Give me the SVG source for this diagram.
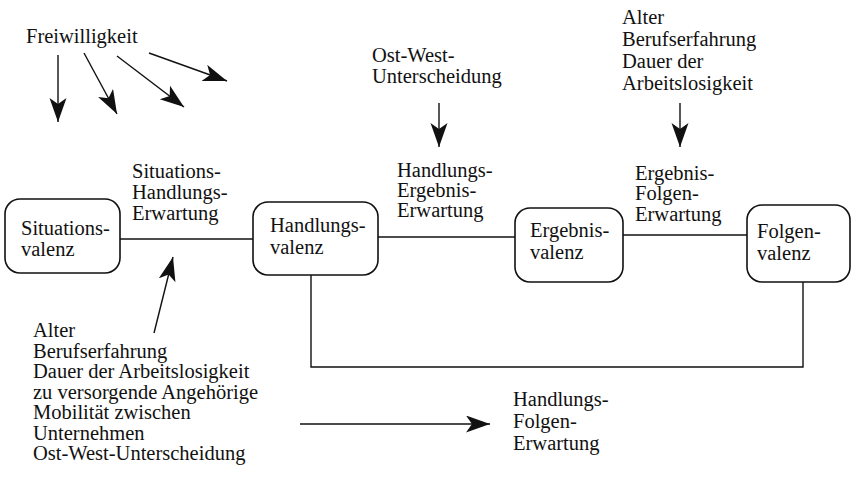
<svg xmlns="http://www.w3.org/2000/svg" width="853" height="480" viewBox="0 0 853 480">
<style>
  .lbl { font-size: 20.5px; }
  .lst { font-size: 20.5px; }
  .box { fill: #fff; stroke: #111; stroke-width: 1.6; }
  .ln { fill: none; stroke: #111; stroke-width: 1.4; }
  .arr { fill: none; stroke: #111; stroke-width: 1.4; marker-end: url(#ah); }
</style>
<defs>
  <marker id="ah" markerUnits="userSpaceOnUse" markerWidth="26" markerHeight="20" refX="24" refY="8.5" orient="auto">
    <path d="M0,0 L24,8.5 L0,17 L6,8.5 Z" fill="#111"/>
  </marker>
</defs>
<rect width="853" height="480" fill="#fff"/>

<g id="connectors">
  <line class="ln" x1="120" y1="239" x2="253" y2="239"/>
  <line class="ln" x1="378" y1="237" x2="515" y2="237"/>
  <line class="ln" x1="623" y1="235" x2="747" y2="235"/>
  <polyline class="ln" points="311,275 311,367 803,367 803,282"/>
  <line class="arr" x1="58" y1="55" x2="58" y2="122"/>
  <line class="arr" x1="84" y1="53" x2="117" y2="114"/>
  <line class="arr" x1="117" y1="56" x2="184" y2="107"/>
  <line class="arr" x1="149" y1="53" x2="227" y2="81"/>
  <line class="arr" x1="154" y1="333" x2="173" y2="257"/>
  <line class="arr" x1="439" y1="103" x2="439" y2="147"/>
  <line class="arr" x1="680" y1="103" x2="680" y2="147"/>
  <line class="arr" x1="300" y1="424" x2="490" y2="424"/>
</g>

<g font-family="Liberation Serif, Times New Roman, Tinos, Noto Serif, DejaVu Serif, FreeSerif, serif" fill="#111">
<g id="freiwilligkeit">
  <text class="lst" x="26" y="43">Freiwilligkeit</text>
</g>

<g id="label-sit-hand">
  <text class="lbl" x="132" y="178">Situations-</text>
  <text class="lbl" x="132" y="199">Handlungs-</text>
  <text class="lbl" x="132" y="220">Erwartung</text>
</g>

<g id="ostwest">
  <text class="lst" x="372" y="62">Ost-West-</text>
  <text class="lst" x="372" y="83">Unterscheidung</text>
</g>

<g id="label-hand-erg">
  <text class="lbl" x="397" y="177">Handlungs-</text>
  <text class="lbl" x="397" y="197">Ergebnis-</text>
  <text class="lbl" x="397" y="217">Erwartung</text>
</g>

<g id="list-top">
  <text class="lst" x="622" y="24">Alter</text>
  <text class="lst" x="622" y="46">Berufserfahrung</text>
  <text class="lst" x="622" y="68">Dauer der</text>
  <text class="lst" x="622" y="90">Arbeitslosigkeit</text>
</g>

<g id="label-erg-folg">
  <text class="lbl" x="635" y="180">Ergebnis-</text>
  <text class="lbl" x="635" y="200">Folgen-</text>
  <text class="lbl" x="635" y="221">Erwartung</text>
</g>

<g id="situationsvalenz">
  <rect class="box" x="5" y="199" width="115" height="74" rx="15"/>
  <text class="lbl" x="21" y="235">Situations-</text>
  <text class="lbl" x="21" y="256">valenz</text>
</g>

<g id="handlungsvalenz">
  <rect class="box" x="253" y="202" width="125" height="73" rx="15"/>
  <text class="lbl" x="270" y="232">Handlungs-</text>
  <text class="lbl" x="270" y="254">valenz</text>
</g>

<g id="ergebnisvalenz">
  <rect class="box" x="515" y="208" width="108" height="74" rx="15"/>
  <text class="lbl" x="530" y="237">Ergebnis-</text>
  <text class="lbl" x="530" y="259">valenz</text>
</g>

<g id="folgenvalenz">
  <rect class="box" x="747" y="205" width="103" height="77" rx="15"/>
  <text class="lbl" x="757" y="238">Folgen-</text>
  <text class="lbl" x="757" y="260">valenz</text>
</g>

<g id="list-bottom">
  <text class="lst" x="33" y="337">Alter</text>
  <text class="lst" x="33" y="357.5">Berufserfahrung</text>
  <text class="lst" x="33" y="378">Dauer der Arbeitslosigkeit</text>
  <text class="lst" x="33" y="398.5">zu versorgende Angehörige</text>
  <text class="lst" x="33" y="419">Mobilität zwischen</text>
  <text class="lst" x="33" y="439.5">Unternehmen</text>
  <text class="lst" x="33" y="460">Ost-West-Unterscheidung</text>
</g>

<g id="label-hand-folg">
  <text class="lbl" x="513" y="406">Handlungs-</text>
  <text class="lbl" x="513" y="428">Folgen-</text>
  <text class="lbl" x="513" y="450">Erwartung</text>
</g>
</g>
</svg>
